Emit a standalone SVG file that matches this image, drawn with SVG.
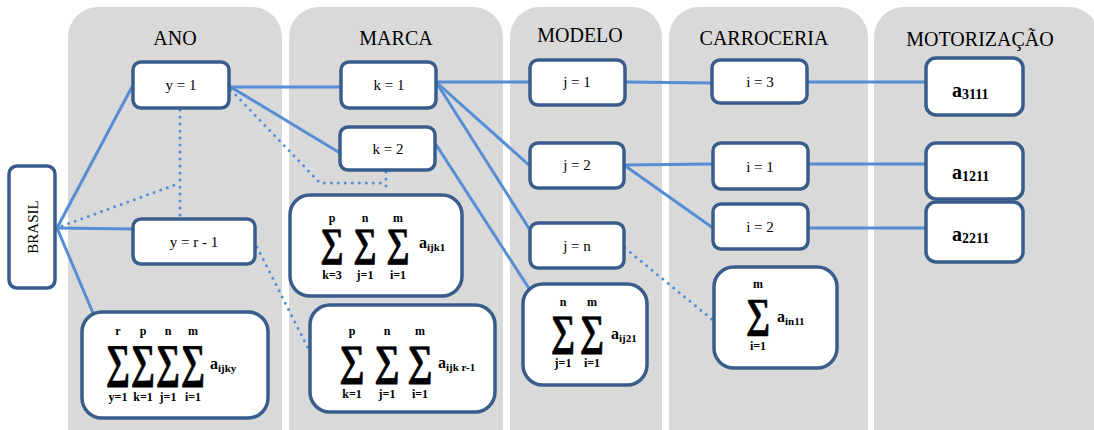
<svg xmlns="http://www.w3.org/2000/svg" width="1094" height="430" viewBox="0 0 1094 430">
<style>
.col{fill:#d9d9d9}
.hdr{font-family:"Liberation Serif",serif;font-size:20px;fill:#000;text-anchor:middle}
.node rect{fill:#fff;stroke:#385d8a;stroke-width:3.5}
.lbl{font-family:"Liberation Serif",serif;font-size:15px;fill:#000;text-anchor:middle}
.link{stroke:#558ed5;stroke-width:3;fill:none}
.dot{stroke:#558ed5;stroke-width:3;fill:none;stroke-dasharray:0 7;stroke-linecap:round}
.sig{font-family:"Liberation Serif",serif;font-weight:bold;text-anchor:middle;stroke:#000;stroke-width:0.8}
.lim{font-family:"Liberation Serif",serif;font-size:12px;font-weight:bold;text-anchor:middle}
.term{font-family:"Liberation Serif",serif;font-size:16px;font-weight:bold}
.sub{font-size:11px}
.av{font-family:"Liberation Serif",serif;font-size:20px;font-weight:bold}
.avs{font-size:14px}
</style>

<!-- level columns -->
<g id="columns">
  <rect class="col" x="68" y="7" width="214" height="460" rx="30"/>
  <rect class="col" x="289" y="7" width="214" height="460" rx="30"/>
  <rect class="col" x="510" y="7" width="152" height="460" rx="30"/>
  <rect class="col" x="669" y="7" width="199" height="460" rx="30"/>
  <rect class="col" x="874" y="7" width="225" height="460" rx="30"/>
  <text class="hdr" x="175" y="45">ANO</text>
  <text class="hdr" x="396" y="45">MARCA</text>
  <text class="hdr" x="580" y="42">MODELO</text>
  <text class="hdr" x="764" y="45">CARROCERIA</text>
  <text class="hdr" x="980" y="46">MOTORIZAÇÃO</text>
</g>

<!-- connectors -->
<g id="connectors">
  <line class="link" x1="57" y1="228" x2="133" y2="85"/>
  <line class="link" x1="57" y1="228" x2="133" y2="229"/>
  <line class="link" x1="57" y1="228" x2="93" y2="313"/>
  <line class="dot" x1="62" y1="226" x2="180" y2="183"/>
  <line class="dot" x1="180" y1="110" x2="180" y2="219"/>
  <line class="link" x1="229" y1="87" x2="341" y2="87"/>
  <line class="link" x1="229" y1="86" x2="340" y2="153"/>
  <polyline class="dot" points="231,90 320,183 386,183"/>
  <line class="dot" x1="386" y1="172" x2="386" y2="188"/>
  <line class="dot" x1="257" y1="247" x2="308" y2="348"/>
  <line class="link" x1="436" y1="82" x2="530" y2="82"/>
  <line class="link" x1="436" y1="82" x2="530" y2="166"/>
  <line class="link" x1="436" y1="82" x2="530" y2="230"/>
  <line class="link" x1="435" y1="143" x2="530" y2="290"/>
  <line class="link" x1="625" y1="82" x2="712" y2="83"/>
  <line class="link" x1="807" y1="82" x2="926" y2="82"/>
  <line class="link" x1="624" y1="165" x2="713" y2="164"/>
  <line class="link" x1="624" y1="165" x2="713" y2="228"/>
  <line class="dot" x1="625" y1="248" x2="714" y2="321"/>
  <line class="link" x1="808" y1="164" x2="926" y2="164"/>
  <line class="link" x1="808" y1="228" x2="926" y2="228"/>
</g>

<!-- nodes -->
<g id="brasil" class="node">
  <rect x="9" y="166" width="46" height="122" rx="8"/>
  <text class="lbl" transform="translate(38,227) rotate(-90)">BRASIL</text>
</g>
<g id="ano-y1" class="node">
  <rect x="133" y="62" width="96" height="46" rx="8"/>
  <text class="lbl" x="181" y="90">y = 1</text>
</g>
<g id="ano-yr1" class="node">
  <rect x="133" y="219" width="122" height="45" rx="8"/>
  <text class="lbl" x="194" y="247">y = r - 1</text>
</g>
<g id="marca-k1" class="node">
  <rect x="341" y="62" width="95" height="46" rx="8"/>
  <text class="lbl" x="389" y="90">k = 1</text>
</g>
<g id="marca-k2" class="node">
  <rect x="340" y="127" width="95" height="43" rx="8"/>
  <text class="lbl" x="388" y="154">k = 2</text>
</g>
<g id="modelo-j1" class="node">
  <rect x="530" y="60" width="95" height="45" rx="8"/>
  <text class="lbl" x="577" y="87">j = 1</text>
</g>
<g id="modelo-j2" class="node">
  <rect x="530" y="143" width="94" height="45" rx="8"/>
  <text class="lbl" x="577" y="170">j = 2</text>
</g>
<g id="modelo-jn" class="node">
  <rect x="530" y="223" width="94" height="45" rx="8"/>
  <text class="lbl" x="577" y="251">j = n</text>
</g>
<g id="carroceria-i3" class="node">
  <rect x="712" y="60" width="95" height="43" rx="8"/>
  <text class="lbl" x="760" y="87">i = 3</text>
</g>
<g id="carroceria-i1" class="node">
  <rect x="713" y="143" width="95" height="46" rx="8"/>
  <text class="lbl" x="760" y="172">i = 1</text>
</g>
<g id="carroceria-i2" class="node">
  <rect x="713" y="204" width="95" height="45" rx="8"/>
  <text class="lbl" x="760" y="232">i = 2</text>
</g>
<g id="motor-a3111" class="node">
  <rect x="926" y="58" width="97" height="57" rx="10"/>
  <text class="av" x="952" y="97">a<tspan class="avs" dy="2">3111</tspan></text>
</g>
<g id="motor-a1211" class="node">
  <rect x="926" y="143" width="97" height="56" rx="10"/>
  <text class="av" x="952" y="179">a<tspan class="avs" dy="2">1211</tspan></text>
</g>
<g id="motor-a2211" class="node">
  <rect x="926" y="202" width="97" height="60" rx="10"/>
  <text class="av" x="952" y="241">a<tspan class="avs" dy="2">2211</tspan></text>
</g>

<!-- summation nodes -->
<g id="sum-ano" class="node">
  <rect x="82" y="312" width="186" height="106" rx="20"/>
  <text class="lim" x="118" y="335">r</text>
  <text class="lim" x="143" y="335">p</text>
  <text class="lim" x="168" y="335">n</text>
  <text class="lim" x="193" y="335">m</text>
  <text class="sig" font-size="47" x="118" y="377" textLength="24" lengthAdjust="spacingAndGlyphs">∑</text>
  <text class="sig" font-size="47" x="143" y="377" textLength="24" lengthAdjust="spacingAndGlyphs">∑</text>
  <text class="sig" font-size="47" x="168" y="377" textLength="24" lengthAdjust="spacingAndGlyphs">∑</text>
  <text class="sig" font-size="47" x="193" y="377" textLength="24" lengthAdjust="spacingAndGlyphs">∑</text>
  <text class="lim" x="118" y="401">y=1</text>
  <text class="lim" x="143" y="401">k=1</text>
  <text class="lim" x="168" y="401">j=1</text>
  <text class="lim" x="193" y="401">i=1</text>
  <text class="term" x="210" y="369">a<tspan class="sub" dy="3">ijky</tspan></text>
</g>
<g id="sum-marca-k3" class="node">
  <rect x="290" y="195" width="172" height="101" rx="20"/>
  <text class="lim" x="332" y="222">p</text>
  <text class="lim" x="365" y="222">n</text>
  <text class="lim" x="398" y="222">m</text>
  <text class="sig" font-size="40" x="332" y="256" textLength="23" lengthAdjust="spacingAndGlyphs">∑</text>
  <text class="sig" font-size="40" x="365" y="256" textLength="23" lengthAdjust="spacingAndGlyphs">∑</text>
  <text class="sig" font-size="40" x="398" y="256" textLength="23" lengthAdjust="spacingAndGlyphs">∑</text>
  <text class="lim" x="332" y="279">k=3</text>
  <text class="lim" x="365" y="279">j=1</text>
  <text class="lim" x="398" y="279">i=1</text>
  <text class="term" x="419" y="248">a<tspan class="sub" dy="3">ijk1</tspan></text>
</g>
<g id="sum-marca-r1" class="node">
  <rect x="310" y="305" width="185" height="107" rx="20"/>
  <text class="lim" x="352" y="335">p</text>
  <text class="lim" x="387" y="335">n</text>
  <text class="lim" x="420" y="335">m</text>
  <text class="sig" font-size="43" x="352" y="375" textLength="25" lengthAdjust="spacingAndGlyphs">∑</text>
  <text class="sig" font-size="43" x="387" y="375" textLength="25" lengthAdjust="spacingAndGlyphs">∑</text>
  <text class="sig" font-size="43" x="420" y="375" textLength="25" lengthAdjust="spacingAndGlyphs">∑</text>
  <text class="lim" x="352" y="398">k=1</text>
  <text class="lim" x="387" y="398">j=1</text>
  <text class="lim" x="420" y="398">i=1</text>
  <text class="term" x="438" y="368">a<tspan class="sub" dy="3">ijk r-1</tspan></text>
</g>
<g id="sum-modelo" class="node">
  <rect x="523" y="284" width="124" height="101" rx="20"/>
  <text class="lim" x="563" y="306">n</text>
  <text class="lim" x="592" y="306">m</text>
  <text class="sig" font-size="43" x="563" y="345" textLength="24" lengthAdjust="spacingAndGlyphs">∑</text>
  <text class="sig" font-size="43" x="592" y="345" textLength="24" lengthAdjust="spacingAndGlyphs">∑</text>
  <text class="lim" x="563" y="367">j=1</text>
  <text class="lim" x="592" y="367">i=1</text>
  <text class="term" x="611" y="339">a<tspan class="sub" dy="3">ij21</tspan></text>
</g>
<g id="sum-carroceria" class="node">
  <rect x="714" y="267" width="123" height="101" rx="20"/>
  <text class="lim" x="758" y="288">m</text>
  <text class="sig" font-size="41" x="758" y="327" textLength="24" lengthAdjust="spacingAndGlyphs">∑</text>
  <text class="lim" x="758" y="350">i=1</text>
  <text class="term" x="777" y="322">a<tspan class="sub" dy="3">in11</tspan></text>
</g>
</svg>
